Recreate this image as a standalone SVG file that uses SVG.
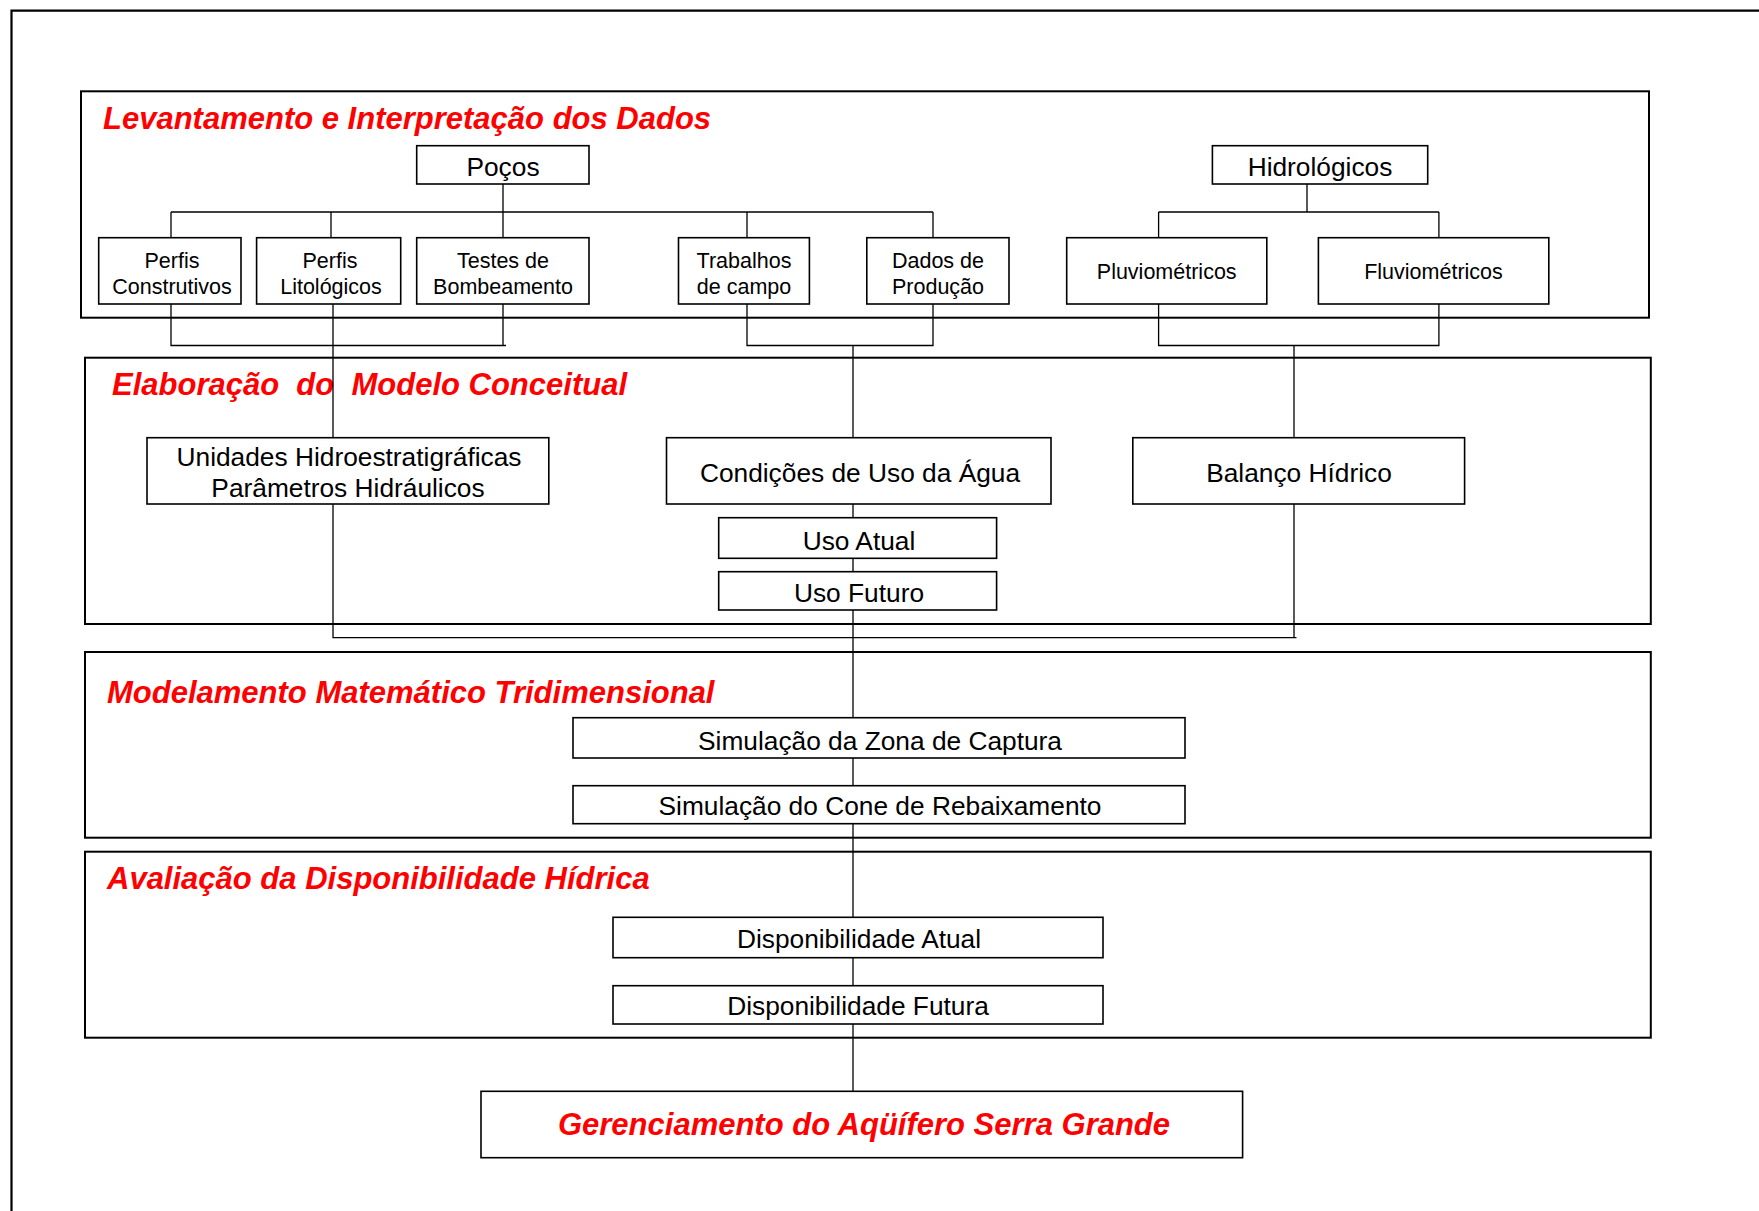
<svg xmlns="http://www.w3.org/2000/svg" width="1759" height="1211" viewBox="0 0 1759 1211">
<style>
  .bg{fill:#fff}
  .frame{fill:none;stroke:#000;stroke-width:2.2}
  .sec{fill:none;stroke:#000;stroke-width:2}
  .box{fill:#fff;stroke:#000;stroke-width:1.6}
  .con{fill:none;stroke:#000;stroke-width:1.3}
  text{font-family:"Liberation Sans",Arial,sans-serif;fill:#000;text-anchor:middle}
  .h{font-weight:bold;font-style:italic;fill:#f00;font-size:31px;text-anchor:start;white-space:pre}
  .g{font-weight:bold;font-style:italic;fill:#f00;font-size:31px}
  .m{font-size:26.3px}
  .s{font-size:21.5px}
</style>
<rect class="bg" x="0" y="0" width="1759" height="1211"/>
<path class="frame" d="M11.5,1211 V10.7 H1759"/>

<g id="sections">
  <g id="sec-levantamento">
    <rect class="sec" x="81" y="91.3" width="1568" height="226.4"/>
    <text class="h" x="103" y="129.3">Levantamento e Interpretação dos Dados</text>
  </g>
  <g id="sec-elaboracao">
    <rect class="sec" x="85" y="357.7" width="1565.8" height="266.3"/>
    <text class="h" x="112" y="395">Elaboração  do  Modelo Conceitual</text>
  </g>
  <g id="sec-modelamento">
    <rect class="sec" x="85" y="652" width="1565.8" height="185.7"/>
    <text class="h" x="107" y="703.3">Modelamento Matemático Tridimensional</text>
  </g>
  <g id="sec-avaliacao">
    <rect class="sec" x="85" y="851.7" width="1565.8" height="186"/>
    <text class="h" x="107" y="889.3">Avaliação da Disponibilidade Hídrica</text>
  </g>
</g>

<g id="connectors">
  <path class="con" d="M503,184 V237.7 M171,212 H933 M171,212 V237.7 M331,212 V237.7 M747,212 V237.7 M933,212 V237.7"/>
  <path class="con" d="M1307,184 V212 M1158.6,212 H1438.9 M1158.6,212 V237.7 M1438.9,212 V237.7"/>
  <path class="con" d="M171,304 V345.5 H506 M503,304 V345.5"/>
  <path class="con" d="M747,304 V345.5 H933 V304"/>
  <path class="con" d="M853,345.5 V1091.3"/>
  <path class="con" d="M1158.6,304 V345.5 H1438.9 V304"/>
  <path class="con" d="M1294,345.5 V637.7"/>
  <path class="con" d="M333,304 V637.7 H1296.5"/>
</g>

<g id="pocos"><rect class="box" x="416.7" y="145.7" width="172.3" height="38.3"/><text class="m" x="503" y="175.5">Poços</text></g>
<g id="hidrologicos"><rect class="box" x="1212.4" y="145.7" width="215.3" height="38.3"/><text class="m" x="1320" y="175.5">Hidrológicos</text></g>

<g id="perfis-construtivos"><rect class="box" x="98.7" y="237.7" width="142.3" height="66.3"/><text class="s" x="172" y="267.7">Perfis</text><text class="s" x="172" y="293.5">Construtivos</text></g>
<g id="perfis-litologicos"><rect class="box" x="256.6" y="237.7" width="144.1" height="66.3"/><text class="s" x="330" y="267.7">Perfis</text><text class="s" x="331" y="293.5">Litológicos</text></g>
<g id="testes-bombeamento"><rect class="box" x="416.7" y="237.7" width="172.3" height="66.3"/><text class="s" x="503" y="267.7">Testes de</text><text class="s" x="503" y="293.5">Bombeamento</text></g>
<g id="trabalhos-campo"><rect class="box" x="678.5" y="237.7" width="130.9" height="66.3"/><text class="s" x="744" y="267.7">Trabalhos</text><text class="s" x="744" y="293.5">de campo</text></g>
<g id="dados-producao"><rect class="box" x="866.8" y="237.7" width="142.2" height="66.3"/><text class="s" x="938" y="267.7">Dados de</text><text class="s" x="938" y="293.5">Produção</text></g>
<g id="pluviometricos"><rect class="box" x="1066.7" y="237.7" width="200.1" height="66.3"/><text class="s" x="1166.7" y="279.3">Pluviométricos</text></g>
<g id="fluviometricos"><rect class="box" x="1318.4" y="237.7" width="230.4" height="66.3"/><text class="s" x="1433.5" y="279.3">Fluviométricos</text></g>

<g id="unidades"><rect class="box" x="147" y="437.7" width="401.8" height="66.3"/><text class="m" x="349" y="466">Unidades Hidroestratigráficas</text><text class="m" x="348" y="496.7">Parâmetros Hidráulicos</text></g>
<g id="condicoes"><rect class="box" x="666.5" y="437.7" width="384.5" height="66.3"/><text class="m" x="860" y="481.7">Condições de Uso da Água</text></g>
<g id="balanco"><rect class="box" x="1132.8" y="437.7" width="331.8" height="66.3"/><text class="m" x="1299" y="481.7">Balanço Hídrico</text></g>
<g id="uso-atual"><rect class="box" x="718.7" y="517.7" width="277.9" height="40.6"/><text class="m" x="859" y="550">Uso Atual</text></g>
<g id="uso-futuro"><rect class="box" x="718.7" y="571.7" width="277.9" height="38.3"/><text class="m" x="859" y="601.7">Uso Futuro</text></g>

<g id="sim-zona"><rect class="box" x="573" y="717.7" width="612" height="40.3"/><text class="m" x="880" y="750">Simulação da Zona de Captura</text></g>
<g id="sim-cone"><rect class="box" x="573" y="785.7" width="612" height="38"/><text class="m" x="880" y="815">Simulação do Cone de Rebaixamento</text></g>

<g id="disp-atual"><rect class="box" x="613" y="917.3" width="490" height="40.4"/><text class="m" x="859" y="948.3">Disponibilidade Atual</text></g>
<g id="disp-futura"><rect class="box" x="613" y="985.7" width="490" height="38.3"/><text class="m" x="858" y="1014.5">Disponibilidade Futura</text></g>

<g id="gerenciamento"><rect class="box" x="481" y="1091.3" width="761.6" height="66.4"/><text class="g" x="864" y="1135">Gerenciamento do Aqüífero Serra Grande</text></g>
</svg>
